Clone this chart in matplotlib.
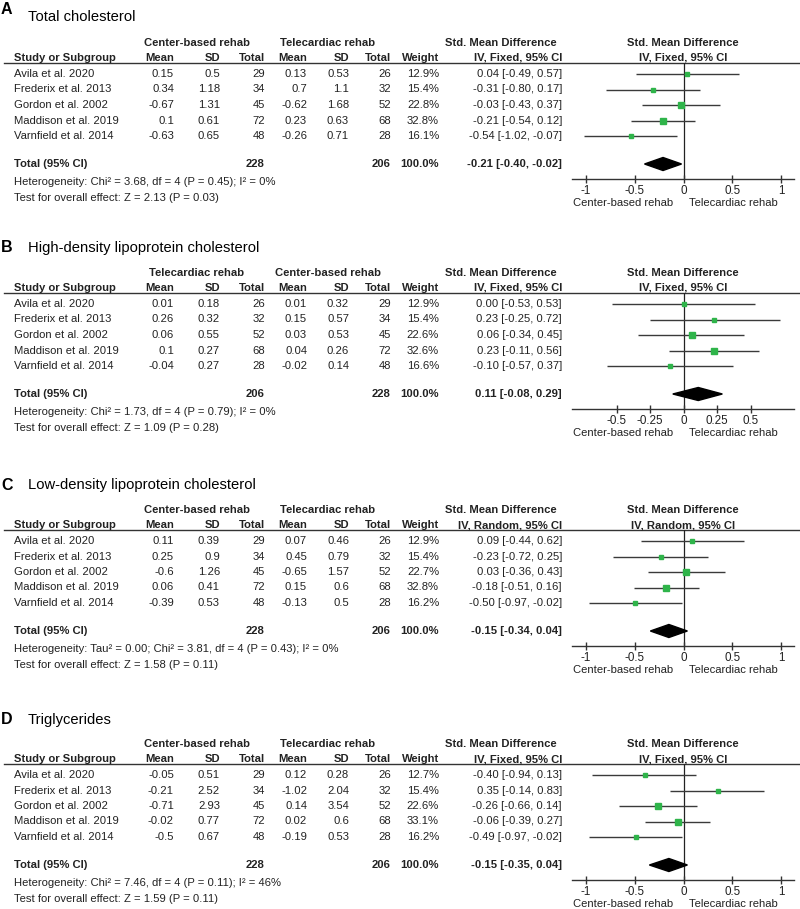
import numpy as np
import matplotlib.pyplot as plt

plt.rcParams['font.family'] = ['Liberation Sans', 'DejaVu Sans']

studies = ['Avila et al. 2020', 'Frederix et al. 2013', 'Gordon et al. 2002',
           'Maddison et al. 2019', 'Varnfield et al. 2014']

# A: total cholesterol (group 1 = center-based, group 2 = telecardiac)
A_mean1 = [0.15, 0.34, -0.67, 0.1, -0.63]
A_sd1 = [0.5, 1.18, 1.31, 0.61, 0.65]
A_n1 = [29, 34, 45, 72, 48]
A_mean2 = [0.13, 0.7, -0.62, 0.23, -0.26]
A_sd2 = [0.53, 1.1, 1.68, 0.63, 0.71]
A_n2 = [26, 32, 52, 68, 28]
A_weight = [12.9, 15.4, 22.8, 32.8, 16.1]
A_smd = [0.04, -0.31, -0.03, -0.21, -0.54]
A_lo = [-0.49, -0.80, -0.43, -0.54, -1.02]
A_hi = [0.57, 0.17, 0.37, 0.12, -0.07]
A_total = [-0.21, -0.40, -0.02]

# B: HDL (group 1 = telecardiac, group 2 = center-based)
B_mean1 = [0.01, 0.26, 0.06, 0.1, -0.04]
B_sd1 = [0.18, 0.32, 0.55, 0.27, 0.27]
B_n1 = [26, 32, 52, 68, 28]
B_mean2 = [0.01, 0.15, 0.03, 0.04, -0.02]
B_sd2 = [0.32, 0.57, 0.53, 0.26, 0.14]
B_n2 = [29, 34, 45, 72, 48]
B_weight = [12.9, 15.4, 22.6, 32.6, 16.6]
B_smd = [0.00, 0.23, 0.06, 0.23, -0.10]
B_lo = [-0.53, -0.25, -0.34, -0.11, -0.57]
B_hi = [0.53, 0.72, 0.45, 0.56, 0.37]
B_total = [0.11, -0.08, 0.29]

# C: LDL
C_mean1 = [0.11, 0.25, -0.6, 0.06, -0.39]
C_sd1 = [0.39, 0.9, 1.26, 0.41, 0.53]
C_n1 = [29, 34, 45, 72, 48]
C_mean2 = [0.07, 0.45, -0.65, 0.15, -0.13]
C_sd2 = [0.46, 0.79, 1.57, 0.6, 0.5]
C_n2 = [26, 32, 52, 68, 28]
C_weight = [12.9, 15.4, 22.7, 32.8, 16.2]
C_smd = [0.09, -0.23, 0.03, -0.18, -0.50]
C_lo = [-0.44, -0.72, -0.36, -0.51, -0.97]
C_hi = [0.62, 0.25, 0.43, 0.16, -0.02]
C_total = [-0.15, -0.34, 0.04]

# D: triglycerides
D_mean1 = [-0.05, -0.21, -0.71, -0.02, -0.5]
D_sd1 = [0.51, 2.52, 2.93, 0.77, 0.67]
D_n1 = [29, 34, 45, 72, 48]
D_mean2 = [0.12, -1.02, 0.14, 0.02, -0.19]
D_sd2 = [0.28, 2.04, 3.54, 0.6, 0.53]
D_n2 = [26, 32, 52, 68, 28]
D_weight = [12.7, 15.4, 22.6, 33.1, 16.2]
D_smd = [-0.40, 0.35, -0.26, -0.06, -0.49]
D_lo = [-0.94, -0.14, -0.66, -0.39, -0.97]
D_hi = [0.13, 0.83, 0.14, 0.27, -0.02]
D_total = [-0.15, -0.35, 0.04]

panels = [
    dict(letter='A', title='Total cholesterol', g1='Center-based rehab', g2='Telecardiac rehab',
         m1=A_mean1, s1=A_sd1, n1=A_n1, m2=A_mean2, s2=A_sd2, n2=A_n2, w=A_weight,
         smd=A_smd, lo=A_lo, hi=A_hi, tot=A_total, method='IV, Fixed, 95% CI',
         het='Heterogeneity: Chi² = 3.68, df = 4 (P = 0.45); I² = 0%',
         test='Test for overall effect: Z = 2.13 (P = 0.03)',
         ticks=[-1, -0.5, 0, 0.5, 1], ticklabels=['-1', '-0.5', '0', '0.5', '1'], scale=97.5,
         off=0, ly=9, tyy=17),
    dict(letter='B', title='High-density lipoprotein cholesterol', g1='Telecardiac rehab', g2='Center-based rehab',
         m1=B_mean1, s1=B_sd1, n1=B_n1, m2=B_mean2, s2=B_sd2, n2=B_n2, w=B_weight,
         smd=B_smd, lo=B_lo, hi=B_hi, tot=B_total, method='IV, Fixed, 95% CI',
         het='Heterogeneity: Chi² = 1.73, df = 4 (P = 0.79); I² = 0%',
         test='Test for overall effect: Z = 1.09 (P = 0.28)',
         ticks=[-0.5, -0.25, 0, 0.25, 0.5], ticklabels=['-0.5', '-0.25', '0', '0.25', '0.5'], scale=134,
         off=230, ly=248, tyy=248),
    dict(letter='C', title='Low-density lipoprotein cholesterol', g1='Center-based rehab', g2='Telecardiac rehab',
         m1=C_mean1, s1=C_sd1, n1=C_n1, m2=C_mean2, s2=C_sd2, n2=C_n2, w=C_weight,
         smd=C_smd, lo=C_lo, hi=C_hi, tot=C_total, method='IV, Random, 95% CI',
         het='Heterogeneity: Tau² = 0.00; Chi² = 3.81, df = 4 (P = 0.43); I² = 0%',
         test='Test for overall effect: Z = 1.58 (P = 0.11)',
         ticks=[-1, -0.5, 0, 0.5, 1], ticklabels=['-1', '-0.5', '0', '0.5', '1'], scale=97.5,
         off=467, ly=485, tyy=485),
    dict(letter='D', title='Triglycerides', g1='Center-based rehab', g2='Telecardiac rehab',
         m1=D_mean1, s1=D_sd1, n1=D_n1, m2=D_mean2, s2=D_sd2, n2=D_n2, w=D_weight,
         smd=D_smd, lo=D_lo, hi=D_hi, tot=D_total, method='IV, Fixed, 95% CI',
         het='Heterogeneity: Chi² = 7.46, df = 4 (P = 0.11); I² = 46%',
         test='Test for overall effect: Z = 1.59 (P = 0.11)',
         ticks=[-1, -0.5, 0, 0.5, 1], ticklabels=['-1', '-0.5', '0', '0.5', '1'], scale=97.5,
         off=701, ly=720, tyy=720),
]

W, H = 800, 909
fig = plt.figure(figsize=(W / 100, H / 100), dpi=100)
tx = fig.add_axes([0, 0, 1, 1])
tx.set_xlim(0, W)
tx.set_ylim(H, 0)
tx.axis('off')

fs = 8.1
ink = '#222222'
green = '#2fb44a'
row_h = 15.5

for p in panels:
    o = p['off']
    tx.text(1, p['ly'], p['letter'], fontsize=11.5, fontweight='bold', va='center', ha='left')
    tx.text(28, p['tyy'], p['title'], fontsize=10.6, va='center', ha='left')

    # header rows
    tx.text(197, o + 43, p['g1'], fontsize=fs, fontweight='bold', ha='center', va='center', color=ink)
    tx.text(328, o + 43, p['g2'], fontsize=fs, fontweight='bold', ha='center', va='center', color=ink)
    tx.text(501, o + 43, 'Std. Mean Difference', fontsize=fs, fontweight='bold', ha='center', va='center', color=ink)
    tx.text(683, o + 43, 'Std. Mean Difference', fontsize=fs, fontweight='bold', ha='center', va='center', color=ink)
    hy = o + 58
    tx.text(14, hy, 'Study or Subgroup', fontsize=fs, fontweight='bold', ha='left', va='center', color=ink)
    for xr, lab in zip([174, 220, 265, 307, 349, 391, 439],
                       ['Mean', 'SD', 'Total', 'Mean', 'SD', 'Total', 'Weight']):
        tx.text(xr, hy, lab, fontsize=fs, fontweight='bold', ha='right', va='center', color=ink)
    tx.text(562, hy, p['method'], fontsize=fs, fontweight='bold', ha='right', va='center', color=ink)
    tx.text(683, hy, p['method'], fontsize=fs, fontweight='bold', ha='center', va='center', color=ink)
    tx.plot([4, 800], [o + 63, o + 63], color='#333333', lw=1)

    # study rows
    for i, s in enumerate(studies):
        y = o + 74 + i * row_h
        vals = ['{:g}'.format(p['m1'][i]), '{:g}'.format(p['s1'][i]), str(p['n1'][i]),
                '{:g}'.format(p['m2'][i]), '{:g}'.format(p['s2'][i]), str(p['n2'][i]),
                '{:.1f}%'.format(p['w'][i])]
        tx.text(14, y, s, fontsize=fs, ha='left', va='center', color=ink)
        for xr, v in zip([174, 220, 265, 307, 349, 391, 439], vals):
            tx.text(xr, y, v, fontsize=fs, ha='right', va='center', color=ink)
        ci = '{:.2f} [{:.2f}, {:.2f}]'.format(p['smd'][i], p['lo'][i], p['hi'][i])
        tx.text(562, y, ci, fontsize=fs, ha='right', va='center', color=ink)

    ty = o + 164
    tx.text(14, ty, 'Total (95% CI)', fontsize=fs, fontweight='bold', ha='left', va='center', color=ink)
    tx.text(265, ty, str(sum(p['n1'])), fontsize=fs, fontweight='bold', ha='right', va='center', color=ink)
    tx.text(391, ty, str(sum(p['n2'])), fontsize=fs, fontweight='bold', ha='right', va='center', color=ink)
    tx.text(439, ty, '100.0%', fontsize=fs, fontweight='bold', ha='right', va='center', color=ink)
    tot = p['tot']
    tx.text(562, ty, '{:.2f} [{:.2f}, {:.2f}]'.format(tot[0], tot[1], tot[2]), fontsize=fs,
            fontweight='bold', ha='right', va='center', color=ink)
    tx.text(14, o + 182, p['het'], fontsize=fs, ha='left', va='center', color=ink)
    tx.text(14, o + 198, p['test'], fontsize=fs, ha='left', va='center', color=ink)

    # forest plot axes
    x0, x1, zero = 572, 794, 683.5
    top, bot = o + 63, o + 179
    ax = fig.add_axes([x0 / W, 1 - bot / H, (x1 - x0) / W, (bot - top) / H])
    ax.set_xlim((x0 - zero) / p['scale'], (x1 - zero) / p['scale'])
    rows = np.arange(len(studies))
    total_row = (164 - 74) / row_h
    ax.set_ylim((179 - 74) / row_h, (63 - 74) / row_h)
    ax.patch.set_alpha(0)
    for sp in ['top', 'left', 'right']:
        ax.spines[sp].set_visible(False)
    ax.spines['bottom'].set_color('#333333')
    ax.spines['bottom'].set_linewidth(1)
    ax.set_yticks([])
    ax.set_xticks(p['ticks'])
    ax.set_xticklabels(p['ticklabels'], fontsize=fs + 0.3, color=ink)
    ax.tick_params(axis='x', direction='inout', length=6, width=1, color='#333333', pad=1)
    ax.axvline(0, color=ink, lw=0.9, zorder=1)
    ax.hlines(rows, p['lo'], p['hi'], color='#3a3a3a', lw=1, zorder=2)
    for i in rows:
        ax.plot(p['smd'][i], i, 's', color=green, ms=0.85 * np.sqrt(p['w'][i]), mec=green, zorder=3)
    hh = 0.42
    ax.fill([tot[1], tot[0], tot[2], tot[0]], [total_row, total_row - hh, total_row, total_row + hh],
            color='black', zorder=3)

    tx.text(673, o + 203, 'Center-based rehab', fontsize=fs, ha='right', va='center', color=ink)
    tx.text(689, o + 203, 'Telecardiac rehab', fontsize=fs, ha='left', va='center', color=ink)

fig.savefig('out.png', dpi=100)
